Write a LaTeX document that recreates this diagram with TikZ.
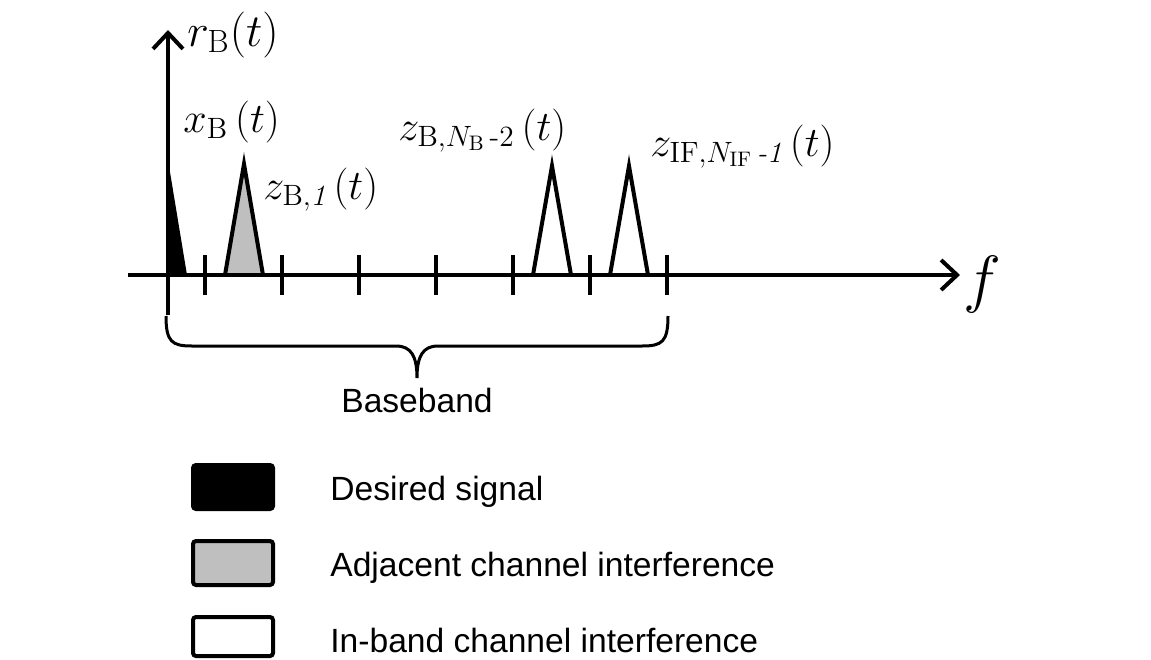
\RequirePackage{fix-cm}
\documentclass[tikz,border=0pt]{standalone}
\usepackage{amsmath}
\usepackage{fontspec}
\newfontfamily\arialfont{Liberation Sans}
\usetikzlibrary{arrows.meta}
\tikzset{
  axisline/.style={line width=2pt, -{Straight Barb[length=8pt,width=15pt,line width=2pt]}},
  tickline/.style={line width=2pt},
  spectrum/.style={line width=2pt, line join=miter},
  bracel/.style={line width=1.5pt},
  legendbox/.style={line width=2pt, rounded corners=1.5pt},
  legendtext/.style={anchor=base west, inner sep=0pt, font=\arialfont\fontsize{16.8}{20}\selectfont},
  mathlabel/.style={anchor=base west, inner sep=0pt, font=\fontsize{21}{25}\selectfont},
}
\begin{document}
\begin{tikzpicture}[x=0.5pt,y=-0.5pt]
\useasboundingbox (0,0) rectangle (1151,659);
% spectra
\fill[black] (168,160) -- (168,275) -- (187,275) -- cycle;
\draw[spectrum, fill={rgb,255:red,191;green,191;blue,191}] (225,275) -- (244,164) -- (263,275);
\draw[spectrum] (533,275) -- (552,166) -- (571,275);
\draw[spectrum] (610,275) -- (629,166) -- (648,275);
% axes
\coordinate (xs) at (128,275);
\coordinate (xe) at (960,275);
\coordinate (ys) at (168,315);
\coordinate (ye) at (168,30);
\draw[axisline] (xs) -- (xe);
\draw[axisline] (ys) -- (ye);
% ticks
\foreach \x in {205,282,359,436,513,590,667} {
  \draw[tickline] (\x,255) -- (\x,295);
}
% brace
\coordinate (bl) at (166,316);
\coordinate (br) at (668,316);
\coordinate (bt) at (417,378);
\draw[bracel] (bl) .. controls (166,342) and (172,346) .. (192,346)
  -- (396,346) .. controls (411,346) and (417,356) .. (bt)
  .. controls (417,356) and (423,346) .. (438,346)
  -- (642,346) .. controls (662,346) and (668,342) .. (br);
\node[legendtext, anchor=base] (bb) at (417,412) {Baseband};
% labels
\node[mathlabel, font=\fontsize{23}{27}\selectfont] (rl) at (187,46) {$r_{\mathrm{B}}(t)$};
\node[mathlabel] (xl) at (183,132) {$x_{\mathrm{B}}\,(t)$};
\node[mathlabel] (z1) at (263,199) {$z_{\mathrm{B},\mathit{1}}\,(t)$};
\node[mathlabel] (z2) at (398,140) {$z_{\mathrm{B},N_{\mathrm{B}}\,\text{-2}}\,(t)$};
\node[mathlabel] (z3) at (650,156) {$z_{\mathrm{IF},N_{\mathrm{IF}}\,\text{\itshape -1}}\,(t)$};
\node[mathlabel, font=\fontsize{32}{36}\selectfont] (fl) at (963,300) {$f$};
% legend
\draw[legendbox, fill=black] (193,465) rectangle (273,509);
\draw[legendbox, fill={rgb,255:red,191;green,191;blue,191}] (193,541) rectangle (273,585);
\draw[legendbox, fill=white] (193,617) rectangle (273,656);
\node[legendtext] (l1) at (330,500) {Desired signal};
\node[legendtext] (l2) at (330,576) {Adjacent channel interference};
\node[legendtext] (l3) at (330,652) {In-band channel interference};
\end{tikzpicture}
\end{document}
